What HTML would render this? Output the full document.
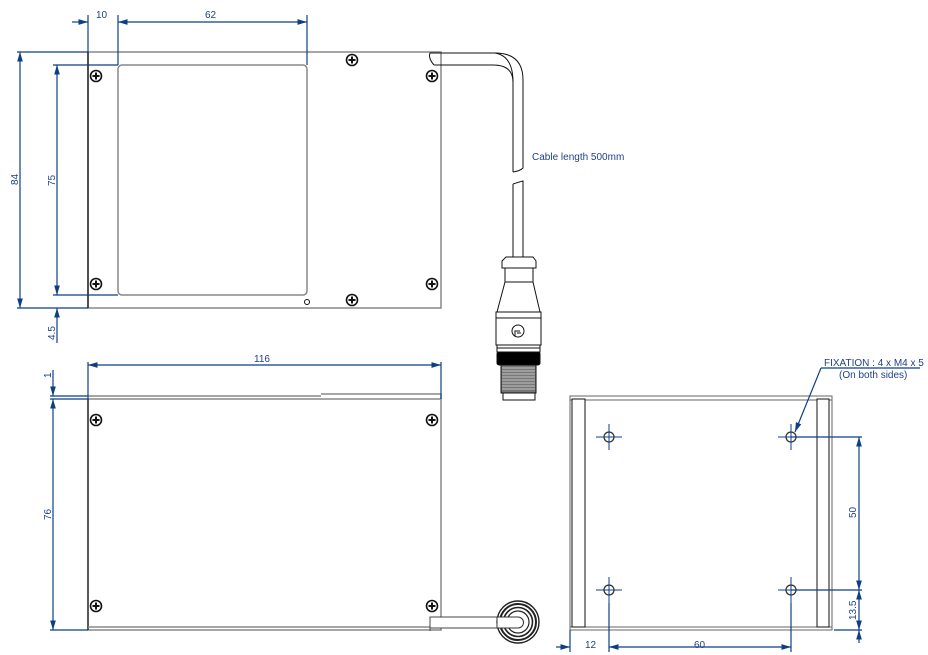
<!DOCTYPE html>
<html><head><meta charset="utf-8"><style>
html,body{margin:0;padding:0;background:#fff;}
svg{display:block;}
text{font-family:"Liberation Sans",sans-serif;fill:#1f3f8a;font-size:10px;}
.b{stroke:#0d3f86;stroke-width:1.2;fill:none;}
.g{stroke:#888;stroke-width:1.5;fill:none;}
.k{stroke:#111;stroke-width:1;fill:none;}
</style></head><body>
<svg width="928" height="655" viewBox="0 0 928 655" xmlns="http://www.w3.org/2000/svg">
<defs>
<marker id="a" viewBox="0 0 10 6" refX="10" refY="3" markerWidth="8" markerHeight="5" orient="auto-start-reverse"><path d="M0,0 L10,3 L0,6 z" fill="#0d3f86"/></marker>
<g id="s"><circle r="5.5" fill="#fff" stroke="#111" stroke-width="1.6"/><path d="M-3.5,0H3.5M0,-3.5V3.5" stroke="#111" stroke-width="2"/></g>
<g id="h"><circle r="5" fill="#fff" stroke="#333" stroke-width="1.3"/><path d="M-13,0H13M0,-13V13" stroke="#0d3f86" stroke-width="1"/></g>
</defs>

<!-- TOP VIEW -->
<rect x="88" y="52" width="353" height="256" class="g" stroke-width="1.3"/>
<line x1="88" y1="52" x2="88" y2="308" stroke="#111" stroke-width="1.3"/>
<rect x="118" y="65" width="189" height="230" rx="4" class="g"/>
<circle cx="307" cy="302" r="2.5" class="k" stroke="#444"/>
<use href="#s" x="96" y="76"/><use href="#s" x="96" y="284"/>
<use href="#s" x="352" y="60"/><use href="#s" x="352" y="300"/>
<use href="#s" x="432" y="76"/><use href="#s" x="432" y="284"/>
<!-- cable -->
<path d="M434,53 L430,53 Q428,58 434,65" class="k" stroke="#444"/>
<path d="M431,53 H495 Q523,53 523,80 V168 Q520,171 513,172" class="k"/>
<path d="M434,65 H493 Q513,65 513,82 V172" class="k"/>
<path d="M495,53 Q513,56 513,82" class="k" stroke="#aaa"/>
<path d="M513,184 Q519,182 523,181 V257 M513,184 V257" class="k"/>
<text x="532" y="160" font-size="9.5">Cable length 500mm</text>
<!-- connector -->
<g stroke="#111" stroke-width="1" fill="#fff">
<path d="M506,257 H533 L536,261 V268 H502 V261 Z"/>
<rect x="505" y="268" width="28" height="14"/>
<path d="M505,282 H533 L540,312 H497 Z"/>
<rect x="496" y="312" width="45" height="6"/>
<rect x="496" y="318" width="45" height="27"/>
<circle cx="518" cy="331" r="6"/>
<path d="M515,336 V331 H520 M517,333 H521" fill="none"/>
<rect x="497" y="345" width="43" height="3"/>
<rect x="497" y="348" width="43" height="4"/>
<rect x="497" y="352" width="43" height="13" rx="2" fill="#000"/>
<rect x="501" y="365" width="35" height="28" fill="#777"/>
<rect x="503" y="393" width="32" height="7"/>
</g>
<g stroke="#ddd" stroke-width="0.8"><path d="M502,368H535M502,371H535M502,374H535M502,377H535M502,380H535M502,383H535M502,386H535M502,389H535"/></g>

<!-- top view dims -->
<path class="b" d="M88,15V52M118,15V65M307,15V65"/>
<line class="b" x1="72" y1="22" x2="88" y2="22" marker-end="url(#a)"/>
<line class="b" x1="118" y1="22" x2="307" y2="22" marker-start="url(#a)" marker-end="url(#a)"/>
<text x="96" y="18">10</text><text x="205" y="18">62</text>
<path class="b" d="M17,52H88M17,308H88M53,65H118M53,295H118M53,308H88"/>
<line class="b" x1="20" y1="52" x2="20" y2="308" marker-start="url(#a)" marker-end="url(#a)"/>
<line class="b" x1="57" y1="65" x2="57" y2="295" marker-start="url(#a)" marker-end="url(#a)"/>
<line class="b" x1="57" y1="343" x2="57" y2="308" marker-end="url(#a)"/>
<text transform="translate(18,185) rotate(-90)">84</text>
<text transform="translate(55,186) rotate(-90)">75</text>
<text transform="translate(55,340) rotate(-90)">4.5</text>

<!-- BOTTOM-LEFT VIEW -->
<path d="M88,396 H321 M321,394 H441 V399" class="g" stroke-width="1.2"/>
<line x1="88" y1="399" x2="441" y2="399" stroke="#444"/>
<rect x="88" y="399" width="353" height="231" class="g" stroke-width="1.2"/>
<line x1="88" y1="399" x2="88" y2="630" stroke="#111" stroke-width="1.2"/>
<line x1="88" y1="627" x2="441" y2="627" class="g" stroke-width="1"/>
<use href="#s" x="96" y="420"/><use href="#s" x="432" y="420"/>
<use href="#s" x="96" y="606"/><use href="#s" x="432" y="606"/>
<rect x="430" y="617" width="70" height="11" fill="#fff" stroke="#444"/>
<line x1="430" y1="628" x2="430" y2="631" stroke="#444"/>
<g fill="none" stroke="#222">
<circle cx="518" cy="622" r="21" stroke-width="1.4"/>
<circle cx="518" cy="622" r="18" stroke-width="2"/>
<circle cx="518" cy="622" r="14.5" stroke-width="1.6"/>
<circle cx="518" cy="622" r="11" stroke-width="1.2"/>
</g>
<path d="M497,617 H518 A5.5,5.5 0 0 1 518,628 H497 Z" fill="#fff" stroke="#333"/>
<path class="b" d="M88,362V399M441,362V399M50,396H88M50,399H88M50,630H88"/>
<line class="b" x1="88" y1="365" x2="441" y2="365" marker-start="url(#a)" marker-end="url(#a)"/>
<text x="138" y="362" transform="translate(0,0)" style="display:none">_</text>
<text x="254" y="362">116</text>
<line class="b" x1="53" y1="370" x2="53" y2="396" marker-end="url(#a)"/>
<line class="b" x1="53" y1="399" x2="53" y2="630" marker-start="url(#a)" marker-end="url(#a)"/>
<text transform="translate(51,378) rotate(-90)">1</text>
<text transform="translate(51,520) rotate(-90)">76</text>

<!-- RIGHT VIEW -->
<rect x="570" y="396" width="262" height="4" fill="#fff" stroke="#666"/>
<rect x="570" y="627" width="262" height="3" fill="#fff" stroke="#666"/>
<line x1="570" y1="396" x2="570" y2="630" stroke="#666"/>
<line x1="832" y1="396" x2="832" y2="630" stroke="#666"/>
<rect x="572" y="399" width="13" height="228" fill="#fff" stroke="#111"/>
<rect x="817" y="399" width="12" height="228" fill="#fff" stroke="#111"/>
<use href="#h" x="609" y="437"/><use href="#h" x="791" y="437"/>
<use href="#h" x="609" y="590"/><use href="#h" x="791" y="590"/>
<path class="b" d="M791,437H862M791,590H862M834,630H862M570,630V652M609,603V652M791,603V652"/>
<line class="b" x1="859" y1="437" x2="859" y2="590" marker-start="url(#a)" marker-end="url(#a)"/>
<line class="b" x1="859" y1="590" x2="859" y2="630" marker-start="url(#a)" marker-end="url(#a)"/>
<line class="b" x1="859" y1="643" x2="859" y2="630" marker-end="url(#a)"/>
<text transform="translate(856,518) rotate(-90)">50</text>
<text transform="translate(856,620) rotate(-90)">13.5</text>
<line class="b" x1="556" y1="647" x2="570" y2="647" marker-end="url(#a)"/>
<line class="b" x1="609" y1="647" x2="791" y2="647" marker-start="url(#a)" marker-end="url(#a)"/>
<text x="585" y="648">12</text><text x="694" y="648">60</text>
<path class="b" d="M920,368H821" stroke-width="1"/>
<line class="b" x1="821" y1="368" x2="795" y2="432" stroke-width="1" marker-end="url(#a)"/>
<text x="824" y="366">FIXATION : 4 x M4 x 5</text>
<text x="839" y="378">(On both sides)</text>
</svg>
</body></html>
